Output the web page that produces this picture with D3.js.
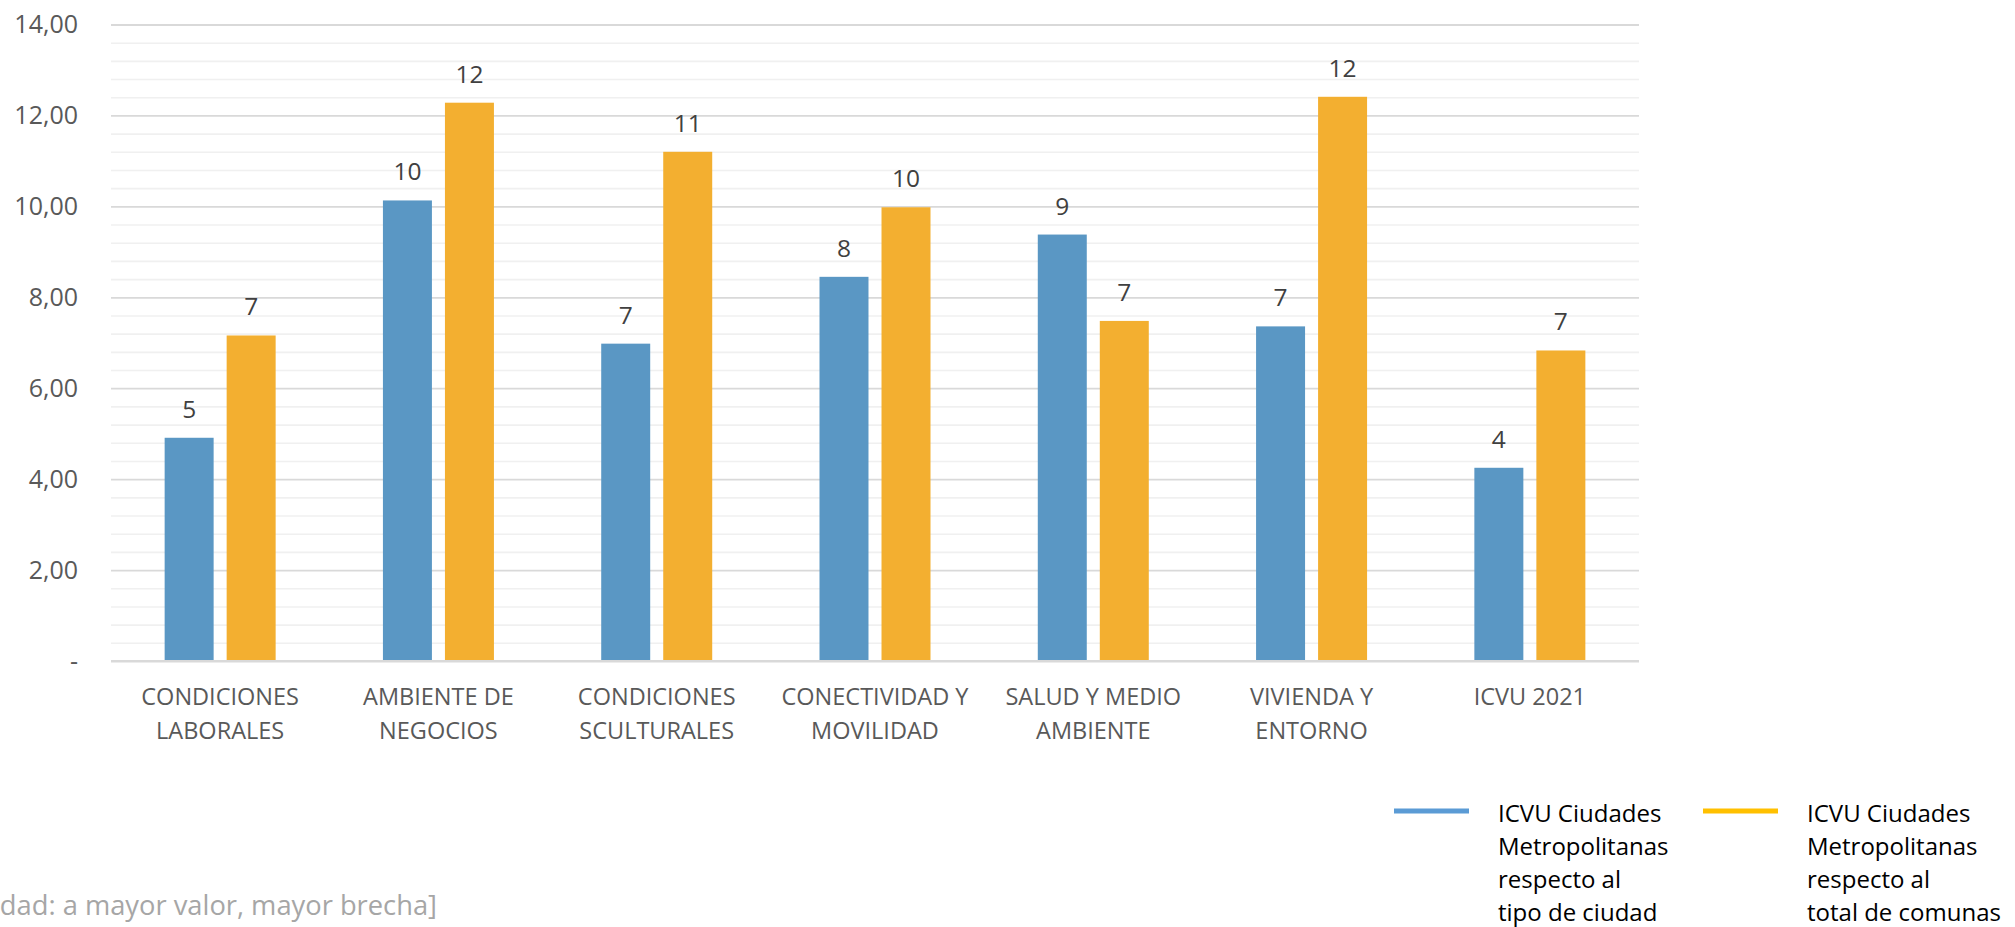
<!DOCTYPE html>
<html>
<head>
<meta charset="utf-8">
<script src="https://cdn.jsdelivr.net/npm/d3@7"></script>
<style>
  body { margin: 0; background: #fff; }
  text { font-family: "Open Sans", sans-serif; }
</style>
</head>
<body>
<svg id="chart" width="2015" height="927"></svg>
<script>
// categories, "|" marks the line break used under the axis
const categories = ["CONDICIONES|LABORALES", "AMBIENTE DE|NEGOCIOS", "CONDICIONES|SCULTURALES",
                    "CONECTIVIDAD Y|MOVILIDAD", "SALUD Y MEDIO|AMBIENTE", "VIVIENDA Y|ENTORNO", "ICVU 2021"];
const seriesNames = ["ICVU Ciudades Metropolitanas respecto al tipo de ciudad",
                     "ICVU Ciudades Metropolitanas respecto al total de comunas"];
const legendLines = [["ICVU Ciudades", "Metropolitanas", "respecto al", "tipo de ciudad"],
                     ["ICVU Ciudades", "Metropolitanas", "respecto al", "total de comunas"]];
const tipoCiudad = [4.91, 10.13, 6.98, 8.45, 9.38, 7.36, 4.25];
const totalComunas = [7.16, 12.28, 11.20, 9.98, 7.48, 12.41, 6.83];
const yTicks = [0, 2, 4, 6, 8, 10, 12, 14];
const footnote = "dad: a mayor valor, mayor brecha]";

const barColors = ["#5A97C4", "#F3AF30"];
const legendColors = ["#5B9BD5", "#FFC000"];

const svg = d3.select("#chart");
const margin = { left: 111, right: 376, top: 24.5, bottom: 266 };
const W = 2015, H = 927;

const rows = categories.map((c, i) => ({ cat: c, values: [tipoCiudad[i], totalComunas[i]] }));

const x0 = d3.scaleBand().domain(categories).range([margin.left, W - margin.right]).padding(0);
const x1 = d3.scaleBand().domain([0, 1]).range([0, 111]).paddingInner(0.21);
const y = d3.scaleLinear().domain([0, 14]).range([H - margin.bottom, margin.top]);

const esCL = d3.formatLocale({ decimal: ",", thousands: ".", grouping: [3], currency: ["$", ""] });
const fmt2 = esCL.format(".2f");

// minor grid, every 0.4
const minorTicks = d3.range(36).map(i => +(i * 0.4).toFixed(1)).filter(v => v % 2 !== 0);
svg.append("g")
   .attr("class", "grid minor")
   .attr("transform", `translate(${margin.left},0)`)
   .call(d3.axisLeft(y).tickValues(minorTicks).tickSize(-(W - margin.right - margin.left)).tickFormat(""))
   .call(g => g.select(".domain").remove())
   .call(g => g.selectAll("line").attr("stroke", "#f0f0f0").attr("stroke-width", 1.6));

// major grid + labels
svg.append("g")
   .attr("class", "grid major")
   .attr("transform", `translate(${margin.left},0)`)
   .call(d3.axisLeft(y).tickValues(yTicks).tickSize(-(W - margin.right - margin.left))
           .tickPadding(33).tickFormat(d => d === 0 ? "-" : fmt2(d)))
   .call(g => g.select(".domain").remove())
   .call(g => g.selectAll("line").attr("stroke", "#d9d9d9").attr("stroke-width", 1.8))
   .call(g => g.selectAll("text").attr("fill", "#595959").style("font-size", "25px"));

// bars
const groups = svg.append("g").selectAll("g")
   .data(rows)
   .join("g")
   .attr("transform", d => `translate(${x0(d.cat) + (x0.bandwidth() - 111) / 2},0)`);

groups.selectAll("rect")
   .data(d => d.values.map((v, k) => ({ k, v })))
   .join("rect")
   .attr("x", d => x1(d.k))
   .attr("y", d => y(d.v))
   .attr("width", x1.bandwidth())
   .attr("height", d => y(0) - y(d.v))
   .attr("fill", d => barColors[d.k]);

groups.selectAll("text")
   .data(d => d.values.map((v, k) => ({ k, v })))
   .join("text")
   .attr("x", d => x1(d.k) + x1.bandwidth() / 2)
   .attr("y", d => y(d.v) - 20)
   .attr("text-anchor", "middle")
   .attr("fill", "#404040")
   .style("font-size", "24.5px")
   .text(d => d3.format(".0f")(d.v));

// baseline
svg.append("line")
   .attr("x1", margin.left).attr("x2", W - margin.right)
   .attr("y1", y(0)).attr("y2", y(0))
   .attr("stroke", "#d9d9d9").attr("stroke-width", 2);

// category labels
const xAxis = svg.append("g").attr("class", "x axis");
categories.forEach(c => {
  const t = xAxis.append("text")
     .attr("x", x0(c) + x0.bandwidth() / 2)
     .attr("y", 705)
     .attr("text-anchor", "middle")
     .attr("fill", "#595959")
     .style("font-size", "23.5px");
  c.split("|").forEach((line, i) => {
    t.append("tspan").attr("x", x0(c) + x0.bandwidth() / 2).attr("dy", i === 0 ? 0 : 34).text(line);
  });
});

// legend
const legendX = [1394, 1703];
seriesNames.forEach((name, k) => {
  const lg = svg.append("g").attr("class", "legend").attr("transform", `translate(${legendX[k]},811)`);
  lg.append("line")
    .attr("x1", 0).attr("x2", 75).attr("y1", 0).attr("y2", 0)
    .attr("stroke", legendColors[k]).attr("stroke-width", 5);
  const t = lg.append("text").attr("x", 104).attr("y", 11).attr("fill", "#000").style("font-size", "24px");
  legendLines[k].forEach((line, i) => {
    t.append("tspan").attr("x", 104).attr("dy", i === 0 ? 0 : 33).text(line);
  });
});

// footnote (cut at the left edge in the original)
svg.append("text")
   .attr("x", 437).attr("y", 915)
   .attr("text-anchor", "end")
   .attr("fill", "#a6a6a6")
   .style("font-size", "27.3px")
   .text(footnote);
</script>
</body>
</html>
